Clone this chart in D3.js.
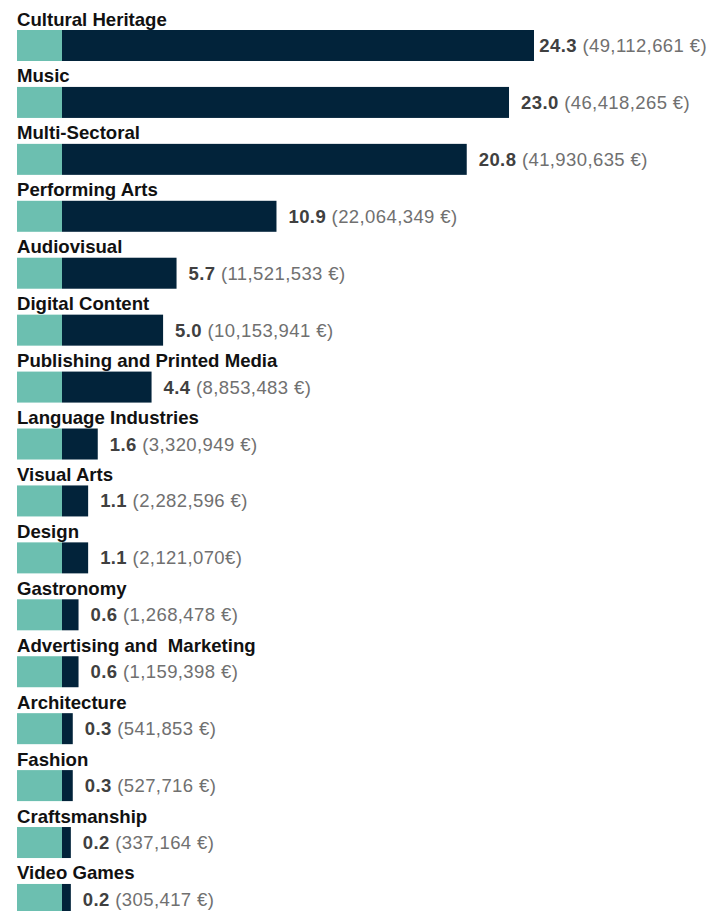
<!DOCTYPE html>
<html>
<head>
<meta charset="utf-8">
<script src="https://cdn.jsdelivr.net/npm/d3@7"></script>
<style>
  html, body { margin: 0; padding: 0; background: #fff; }
  svg { display: block; }
  text { font-family: "Liberation Sans", Arial, sans-serif; white-space: pre; }
</style>
</head>
<body>
<svg id="chart" width="712" height="911"></svg>
<script>
const categories = ["Cultural Heritage", "Music", "Multi-Sectoral", "Performing Arts", "Audiovisual",
  "Digital Content", "Publishing and Printed Media", "Language Industries", "Visual Arts", "Design",
  "Gastronomy", "Advertising and  Marketing", "Architecture", "Fashion", "Craftsmanship", "Video Games"];
const shares = [24.3, 23.0, 20.8, 10.9, 5.7, 5.0, 4.4, 1.6, 1.1, 1.1, 0.6, 0.6, 0.3, 0.3, 0.2, 0.2];
const amountLabels = ["49,112,661 €", "46,418,265 €", "41,930,635 €", "22,064,349 €", "11,521,533 €",
  "10,153,941 €", "8,853,483 €", "3,320,949 €", "2,282,596 €", "2,121,070€",
  "1,268,478 €", "1,159,398 €", "541,853 €", "527,716 €", "337,164 €", "305,417 €"];

const W = 712, H = 911;
const svg = d3.select("#chart");

const y = d3.scaleBand().domain(categories).range([30, 914.96]).paddingInner(0.4555).paddingOuter(0).align(0);
const x = d3.scaleLinear().domain([0, d3.max(shares)]).range([67, 534]);
const tealX0 = 17, tealX1 = 62;

const rows = svg.selectAll("g.row").data(categories.map((c, i) => ({c, v: shares[i], a: amountLabels[i]})))
  .join("g").attr("class", "row");

rows.append("text")
  .attr("x", tealX0)
  .attr("y", d => y(d.c) - 4.5)
  .attr("font-size", 18.6)
  .attr("font-weight", "bold")
  .attr("fill", "#111")
  .text(d => d.c);

rows.append("rect")
  .attr("x", tealX0).attr("y", d => y(d.c))
  .attr("width", tealX1 - tealX0).attr("height", y.bandwidth())
  .attr("fill", "#6cbfb0");

rows.append("rect")
  .attr("x", tealX1).attr("y", d => y(d.c))
  .attr("width", d => x(d.v) - tealX1).attr("height", y.bandwidth())
  .attr("fill", "#02233a");

const fmt = d3.format(".1f");
const lbl = rows.append("text")
  .attr("y", d => y(d.c) + y.bandwidth() / 2 + 6.5)
  .attr("font-size", 18.5)
  .attr("letter-spacing", 0.4);
lbl.append("tspan").attr("font-weight", "bold").attr("fill", "#404040").text(d => fmt(d.v));
lbl.append("tspan").attr("fill", "#707070").text(d => " (" + d.a + ")");
lbl.each(function(d) {
  const w = this.getComputedTextLength();
  let lx = x(d.v) + 12;
  if (lx + w > W - 5) lx = W - 5 - w;
  d3.select(this).attr("x", lx);
});
</script>
</body>
</html>
